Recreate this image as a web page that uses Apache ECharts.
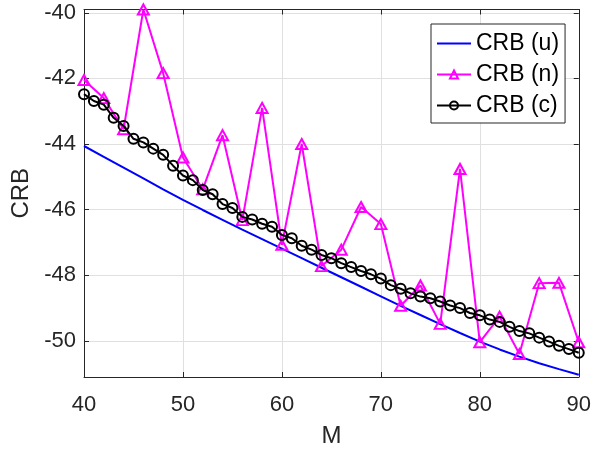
<!DOCTYPE html>
<html>
<head>
<meta charset="utf-8">
<script src="https://cdn.jsdelivr.net/npm/echarts@6/dist/echarts.min.js"></script>
<style>html,body{margin:0;padding:0;background:#fff}#c{width:594px;height:453px}</style>
</head>
<body>
<div id="c"></div>
<script>
// ---- data ----
const mEven = [40,42,44,46,48,50,52,54,56,58,60,62,64,66,68,70,72,74,76,78,80,82,84,86,88,90];
const crbU = [-44.06,-44.39,-44.72,-45.05,-45.38,-45.70,-46.01,-46.31,-46.61,-46.90,-47.19,-47.48,-47.77,-48.06,-48.35,-48.64,-48.93,-49.21,-49.49,-49.76,-50.02,-50.26,-50.48,-50.68,-50.86,-51.03];
const crbN = [-42.05,-42.60,-43.55,-39.90,-41.84,-44.41,-45.38,-43.73,-46.32,-42.90,-47.07,-44.00,-47.72,-47.22,-45.92,-46.44,-48.93,-48.31,-49.48,-44.76,-50.04,-49.26,-50.40,-48.24,-48.23,-50.04];
const mAll = [40,41,42,43,44,45,46,47,48,49,50,51,52,53,54,55,56,57,58,59,60,61,62,63,64,65,66,67,68,69,70,71,72,73,74,75,76,77,78,79,80,81,82,83,84,85,86,87,88,89,90];
const crbC = [-42.48,-42.69,-42.80,-43.20,-43.45,-43.84,-43.95,-44.14,-44.33,-44.66,-44.96,-45.10,-45.40,-45.53,-45.83,-45.95,-46.22,-46.30,-46.43,-46.52,-46.77,-46.87,-47.10,-47.22,-47.38,-47.48,-47.63,-47.75,-47.87,-47.97,-48.10,-48.30,-48.41,-48.55,-48.65,-48.70,-48.80,-48.92,-49.00,-49.15,-49.22,-49.35,-49.42,-49.57,-49.70,-49.77,-49.90,-50.02,-50.15,-50.25,-50.36];
const seriesNames = ['CRB (u)','CRB (n)','CRB (c)'];
const xTickVals = [40,50,60,70,80,90];
const yTickVals = [-50,-48,-46,-44,-42,-40];
const yRange = [-51.1, -39.9];

const zip = (xs, ys) => xs.map((x,i)=>[x, ys[i]]);
const FONT = 'Liberation Sans, Arial, Helvetica, sans-serif';
const AX = '#262626';
const GRIDC = '#e0e0e0';

const chart = echarts.init(document.getElementById('c'), null, {renderer:'canvas'});
chart.setOption({
  animation: false,
  backgroundColor: '#fff',
  grid: {left:84, right:15, top:9.5, bottom:71, containLabel:false},
  xAxis: [{
    type:'value', min:xTickVals[0], max:xTickVals[xTickVals.length-1], interval:10,
    name:'M', nameLocation:'middle', nameGap:47,
    nameTextStyle:{fontFamily:FONT, fontSize:24, color:AX},
    axisLine:{lineStyle:{color:AX, width:1}},
    axisTick:{inside:true, length:5, lineStyle:{color:AX}},
    axisLabel:{fontFamily:FONT, fontSize:22, color:AX, margin:17},
    splitLine:{show:true, lineStyle:{color:GRIDC, width:1}}
  },{
    type:'value', position:'top', min:xTickVals[0], max:xTickVals[xTickVals.length-1], interval:10,
    axisLine:{show:true, onZero:false, lineStyle:{color:AX, width:1}},
    axisTick:{show:true, inside:true, length:5, lineStyle:{color:AX}},
    axisLabel:{show:false}, splitLine:{show:false}
  }],
  yAxis: [{
    type:'value', min:yRange[0], max:yRange[1],
    name:'CRB', nameLocation:'middle', nameGap:49, nameRotate:90,
    nameTextStyle:{fontFamily:FONT, fontSize:24, color:AX},
    axisLine:{show:true, onZero:false, lineStyle:{color:AX, width:1}},
    axisTick:{show:true, inside:true, length:5, lineStyle:{color:AX}, customValues:yTickVals},
    axisLabel:{fontFamily:FONT, fontSize:22, color:AX, margin:8, customValues:yTickVals},
    splitLine:{show:true, lineStyle:{color:GRIDC, width:1}}
  },{
    type:'value', position:'right', min:yRange[0], max:yRange[1],
    axisLine:{show:true, onZero:false, lineStyle:{color:AX, width:1}},
    axisTick:{show:true, inside:true, length:5, lineStyle:{color:AX}, customValues:yTickVals},
    axisLabel:{show:false, customValues:yTickVals}, splitLine:{show:false}
  }],
  legend: {
    orient:'vertical', left:431, top:24,
    backgroundColor:'#fff', borderColor:AX, borderWidth:1, borderRadius:0,
    padding:[8,6,6,5], itemWidth:34, itemHeight:10, itemGap:8,
    textStyle:{fontFamily:FONT, fontSize:23, color:'#000', lineHeight:23},
    data: [{name:seriesNames[0], itemStyle:{opacity:0}}, seriesNames[1], seriesNames[2]]
  },
  series: [
    {name:seriesNames[0], type:'line', data:zip(mEven, crbU), showSymbol:false, symbol:'none', smooth:false,
     lineStyle:{color:'#0000ff', width:2}, itemStyle:{color:'#0000ff'}, z:2},
    {name:seriesNames[1], type:'line', data:zip(mEven, crbN), symbol:'triangle', symbolSize:[11,10],
     lineStyle:{color:'#ff00ff', width:2},
     itemStyle:{color:'rgba(255,255,255,0)', borderColor:'#ff00ff', borderWidth:2}, z:3},
    {name:seriesNames[2], type:'line', data:zip(mAll, crbC), symbol:'circle', symbolSize:10,
     lineStyle:{color:'#000', width:2},
     itemStyle:{color:'rgba(255,255,255,0)', borderColor:'#000', borderWidth:2}, z:4}
  ]
});
</script>
</body>
</html>
